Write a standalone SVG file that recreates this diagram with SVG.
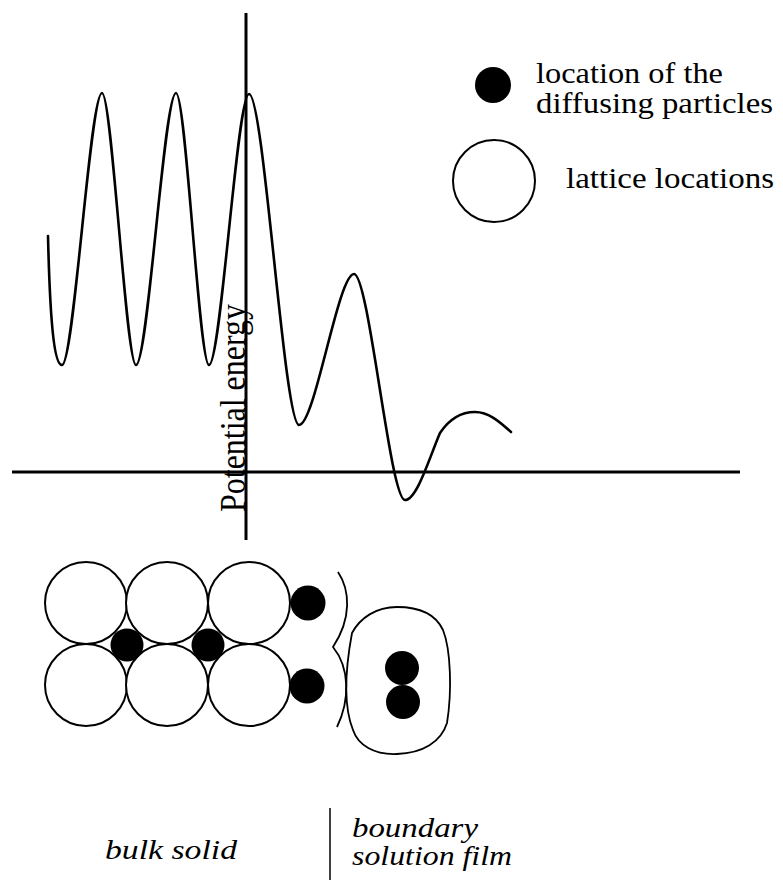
<svg xmlns="http://www.w3.org/2000/svg" width="783" height="881" viewBox="0 0 783 881">
  <style>
    .axis { stroke: #000; stroke-width: 3; fill: none; }
    .curve { stroke: #000; stroke-width: 2.6; fill: none; stroke-linejoin: round; stroke-linecap: round; }
    .lattice { fill: #fff; stroke: #000; stroke-width: 2; }
    .particle { fill: #000; stroke: none; }
    .outline { fill: none; stroke: #000; stroke-width: 1.8; }
    text { font-family: "Liberation Serif", "DejaVu Serif", "Times New Roman", serif; fill: #000; }
    .label { font-size: 29px; }
    .italic { font-style: italic; font-size: 28px; }
  </style>

  <!-- energy axes -->
  <g id="axes">
    <line class="axis" x1="246" y1="13" x2="246" y2="540"/>
    <line class="axis" x1="12" y1="472" x2="740" y2="472"/>
    <text font-family="Liberation Serif, DejaVu Serif, serif" font-size="36" transform="translate(245,512) rotate(-90)" textLength="208" lengthAdjust="spacingAndGlyphs">Potential energy</text>
  </g>

  <!-- potential energy profile -->
  <g id="energy-curve">
    <path class="curve" d="M48,236 C50,320 54,365 62,365
      C74,365 90,93 102,93
      C112,93 126,365 136,365
      C148,365 164,93 176,93
      C186,93 199,365 209,365
      C221,365 237,94 249,94
      C264,94 284,425 299,425
      C315,425 338,274 354,274
      C369,274 390,500 405,500
      C417,500 430,456 440,433
      C450,418 461,412 475,412
      C490,412 502,424 511,432"/>
  </g>

  <!-- legend -->
  <g id="legend-particle">
    <circle class="particle" cx="493" cy="85" r="18"/>
    <text class="label" font-family="Liberation Serif, DejaVu Serif, serif" x="536" y="83" textLength="187" lengthAdjust="spacingAndGlyphs">location of the</text>
    <text class="label" font-family="Liberation Serif, DejaVu Serif, serif" x="536" y="113" textLength="237" lengthAdjust="spacingAndGlyphs">diffusing particles</text>
  </g>
  <g id="legend-lattice">
    <circle class="lattice" cx="494" cy="181" r="41"/>
    <text class="label" font-family="Liberation Serif, DejaVu Serif, serif" x="566" y="188" textLength="208" lengthAdjust="spacingAndGlyphs">lattice locations</text>
  </g>

  <!-- bulk solid lattice -->
  <g id="bulk-lattice">
    <circle class="lattice" cx="86" cy="603" r="41"/>
    <circle class="lattice" cx="167" cy="603" r="41"/>
    <circle class="lattice" cx="249" cy="603" r="41"/>
    <circle class="lattice" cx="86" cy="685" r="41"/>
    <circle class="lattice" cx="167" cy="685" r="41"/>
    <circle class="lattice" cx="249" cy="685" r="41"/>
    <circle class="particle" cx="127" cy="645" r="16.5"/>
    <circle class="particle" cx="208" cy="645" r="16.5"/>
    <circle class="particle" cx="308" cy="603" r="17.5"/>
    <circle class="particle" cx="307" cy="686" r="17.5"/>
  </g>

  <!-- boundary film -->
  <g id="boundary">
    <path class="outline" d="M338,572 C350,590 352,618 333,647 C350,668 350,700 337,727"/>
    <path class="outline" d="M352,633 C360,618 376,607 397,607 C420,607 436,615 443,630 C451,650 452,692 447,723 C441,742 423,753 397,754 C374,755 358,745 353,730 C345,710 344,676 352,633 Z"/>
    <circle class="particle" cx="402" cy="668" r="17"/>
    <circle class="particle" cx="403" cy="702" r="17"/>
  </g>

  <!-- region labels -->
  <g id="region-labels">
    <line x1="330" y1="808" x2="330" y2="880" stroke="#000" stroke-width="1.5"/>
    <text class="italic" font-family="Liberation Serif, DejaVu Serif, serif" x="105" y="859" textLength="132" lengthAdjust="spacingAndGlyphs">bulk solid</text>
    <text class="italic" font-family="Liberation Serif, DejaVu Serif, serif" x="352" y="837" textLength="126" lengthAdjust="spacingAndGlyphs">boundary</text>
    <text class="italic" font-family="Liberation Serif, DejaVu Serif, serif" x="352" y="865" textLength="160" lengthAdjust="spacingAndGlyphs">solution film</text>
  </g>
</svg>
